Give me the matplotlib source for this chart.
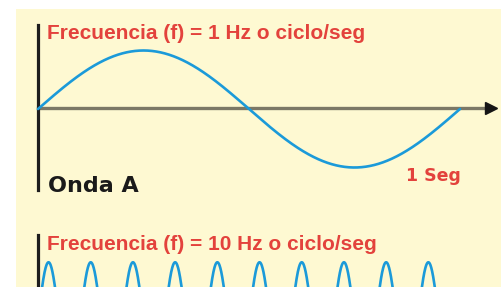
import numpy as np
import matplotlib.pyplot as plt

# two waves shown over one second
freqs = [1, 10]
labels = ["Frecuencia (f) = 1 Hz o ciclo/seg", "Frecuencia (f) = 10 Hz o ciclo/seg"]
amplitude = 1.0
duration = 1.0
offsets = [0.0, -3.62]   # baseline of each wave (amplitude units)
wave_name = "Onda A"
time_label = "1 Seg"

cream = '#fef9d2'
red = '#e3423c'
blue = '#1b9ad9'

fig = plt.figure(figsize=(5.01, 2.87), dpi=100, facecolor='white')
ax = fig.add_axes([16/501, 0, 485/501, 278/287])
ax.set_facecolor(cream)
for s in ax.spines.values():
    s.set_visible(False)
ax.set_xticks([])
ax.set_yticks([])

# pixel -> data helpers (422 px per second, 58.5 px per amplitude unit)
px_t = 422.0
px_a = 58.5
ax.set_xlim((16 - 38) / px_t, (501 - 38) / px_t)
ax.set_ylim(-(287 - 109) / px_a, (109 - 9) / px_a)

for f, lab, off in zip(freqs, labels, offsets):
    t = np.linspace(0, duration, 2000)
    y = off + amplitude * np.sin(2 * np.pi * f * t)
    ax.plot(t, y, color=blue, lw=1.9, zorder=4, solid_capstyle='round')

# top panel axes
ax.plot([0, 0], [1.44, -1.39], color='#1e1e1e', lw=2.3, zorder=3)
ax.plot([0, 1.07], [0.015, 0.015], color='#7b7866', lw=2.4, zorder=2)
ax.plot([1.074], [0.015], marker='>', color='#151515', ms=8, zorder=3)

# bottom panel axis
ax.plot([0, 0], [-2.15, -3.2], color='#1e1e1e', lw=2.3, zorder=3)

ax.text((47 - 38) / px_t, 1.19, labels[0], color=red, fontsize=15,
        family='Liberation Sans', weight='bold', va='baseline', ha='left')
ax.text((47 - 38) / px_t, -2.41, labels[1], color=red, fontsize=15,
        family='Liberation Sans', weight='bold', va='baseline', ha='left')
ax.text((48 - 38) / px_t, -1.42, wave_name, color='#1a1a1a', fontsize=16,
        family='DejaVu Sans', weight='bold', va='baseline', ha='left')
ax.text((433 - 38) / px_t, -1.23, time_label, color=red, fontsize=12.5,
        family='DejaVu Sans', weight='bold', va='baseline', ha='center')

fig.savefig('out.png', dpi=100, facecolor='white')
